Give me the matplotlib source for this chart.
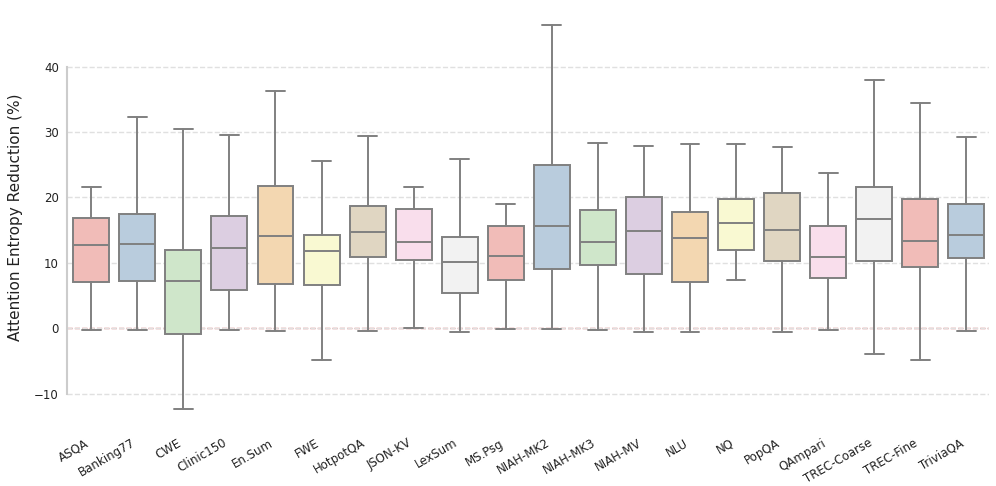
import matplotlib
matplotlib.use("Agg")
import matplotlib.pyplot as plt
import seaborn as sns

datasets = ["ASQA", "Banking77", "CWE", "Clinic150", "En.Sum", "FWE", "HotpotQA",
            "JSON-KV", "LexSum", "MS.Psg", "NIAH-MK2", "NIAH-MK3", "NIAH-MV", "NLU",
            "NQ", "PopQA", "QAmpari", "TREC-Coarse", "TREC-Fine", "TriviaQA"]
# values (whisker low, Q1, median, Q3, whisker high)
whislo = [-0.35, -0.35, -12.4, -0.25, -0.45, -4.8, -0.5, -0.05, -0.65, -0.1,
          -0.1, -0.25, -0.65, -0.55, 7.3, -0.55, -0.3, -3.9, -4.9, -0.5]
q1 = [7.0, 7.2, -0.9, 5.8, 6.8, 6.6, 10.9, 10.4, 5.3, 7.3,
      9.0, 9.6, 8.3, 7.05, 12.0, 10.3, 7.6, 10.3, 9.3, 10.8]
med = [12.7, 12.9, 7.2, 12.2, 14.05, 11.8, 14.65, 13.1, 10.1, 11.0,
       15.6, 13.1, 14.8, 13.8, 16.15, 15.0, 10.9, 16.65, 13.4, 14.25]
q3 = [16.8, 17.5, 12.0, 17.2, 21.8, 14.2, 18.75, 18.3, 13.9, 15.6,
      24.9, 18.1, 20.0, 17.7, 19.7, 20.6, 15.6, 21.65, 19.7, 18.95]
whishi = [21.6, 32.3, 30.5, 29.6, 36.2, 25.6, 29.4, 21.6, 25.8, 19.0,
          46.4, 28.3, 27.8, 28.2, 28.2, 27.7, 23.75, 37.95, 34.5, 29.3]

sns.set_style("whitegrid")

stats = []
for name, lo, a, m, b, hi in zip(datasets, whislo, q1, med, q3, whishi):
    stats.append({"label": name, "whislo": lo, "q1": a, "med": m, "q3": b, "whishi": hi, "fliers": []})

pal = sns.color_palette("Pastel1", 9)
colors = [sns.desaturate(pal[i % 9], 0.75) for i in range(len(datasets))]

fig = plt.figure(figsize=(9.96, 4.86), dpi=100)
ax = fig.add_axes([0.0676, 0.119, 0.9257, 0.869])

line_kw = dict(color="#808080", linewidth=1.4)
bp = ax.bxp(stats, positions=range(len(datasets)), widths=0.78, capwidths=0.41,
            patch_artist=True, showfliers=False,
            boxprops=dict(edgecolor="#808080", linewidth=1.4),
            medianprops=line_kw, whiskerprops=line_kw, capprops=line_kw)
for patch, c in zip(bp["boxes"], colors):
    patch.set_facecolor(c)

ax.axhline(0, color="#e06666", linestyle="--", linewidth=1.0, zorder=0.5)

ax.set_xlim(-0.52, len(datasets) - 0.5)
ax.set_ylim(-15.3, 49.3)
ax.set_yticks([-10, 0, 10, 20, 30, 40])
ax.grid(axis="y", linestyle="--", color="#e0e0e0", linewidth=1.0)
ax.grid(axis="x", visible=False)
ax.set_axisbelow(True)
for s in ["top", "right", "bottom"]:
    ax.spines[s].set_visible(False)
ax.spines["left"].set_visible(True)
ax.spines["left"].set_color("#cccccc")
ax.spines["left"].set_linewidth(1.5)
ax.spines["left"].set_bounds(-10, 40)
ax.spines["left"].set_zorder(3)

ax.set_xticks(range(len(datasets)))
ax.set_xticklabels(datasets, rotation=30, ha="right", fontsize=8.5, color="#222222")
ax.tick_params(axis="y", labelsize=8.5, colors="#222222", length=0, pad=6)
ax.tick_params(axis="x", length=0, pad=6)
ax.set_ylabel("Attention Entropy Reduction (%)", fontsize=11, color="#222222", labelpad=8)

fig.savefig("out.png", dpi=100)
